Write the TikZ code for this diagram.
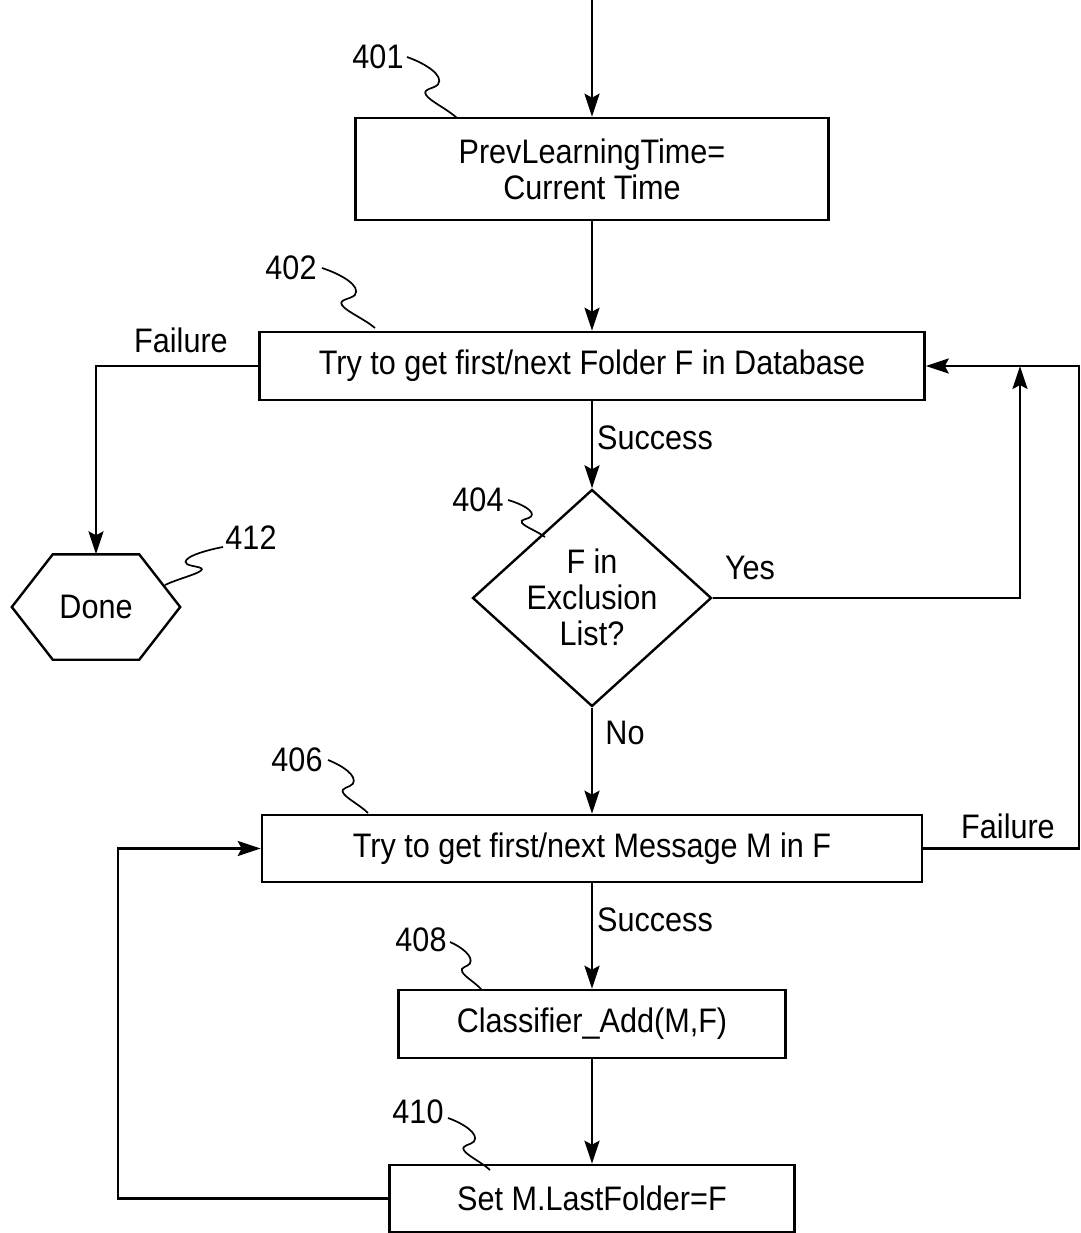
\documentclass[tikz,border=0pt]{standalone}
\usepackage{fontspec}
\setmainfont{Liberation Sans}[FakeStretch=0.9]
\usetikzlibrary{arrows.meta,calc,shapes.geometric}
\newcommand\squig[4]{\draw[lead, shift={(#1,#2)}, xscale=#3, yscale=#4] (0,0) .. controls (0.35,0.1) and (0.75,0.3) .. (0.62,0.45) .. controls (0.55,0.52) and (0.3,0.52) .. (0.38,0.62) .. controls (0.45,0.72) and (0.8,0.85) .. (1,1);}
\begin{document}
\begin{tikzpicture}[x=1pt,y=-1pt,
 every node/.style={font=\fontsize{34}{36}\selectfont, inner sep=0pt},
 box/.style={draw, line width=2.6pt, rectangle, align=center},
 conn/.style={line width=2.4pt, -{Stealth[length=23pt,width=15pt,inset=4pt]}},
 lead/.style={line width=1.7pt}]
\useasboundingbox (0,0) rectangle (1080,1233);
% boxes
\node[box, minimum width=473pt, minimum height=102pt] (b401) at (592,169) {PrevLearningTime=\\Current Time};
\node[box, minimum width=665pt, minimum height=68pt] (b402) at (592,366) {Try to get first/next Folder F in Database};
\node[draw, diamond, line width=2.4pt, minimum width=239pt, minimum height=217pt] (d404) at (592,598) {};
\node[align=center] (d404t) at (592,597) {F in\\Exclusion\\List?};
\node[box, minimum width=660pt, minimum height=67pt] (b406) at (592,848.5) {Try to get first/next Message M in F};
\node[box, minimum width=387pt, minimum height=68pt] (b408) at (592,1024) {Classifier\_Add(M,F)};
\node[box, minimum width=405pt, minimum height=67pt] (b410) at (592,1198.5) {Set M.LastFolder=F};
\node[minimum width=168pt, minimum height=105pt] (done) at (96,607) {Done};
\draw[line width=2.4pt] (done.west) -- ($(done.north west)+(41,0)$) -- ($(done.north east)+(-41,0)$) -- (done.east) -- ($(done.south east)+(-41,0)$) -- ($(done.south west)+(41,0)$) -- cycle;
% connectors
\coordinate (top) at (592,0);
\coordinate (yj) at (1020,366);
\coordinate (fr1) at (1079,848.5);
\coordinate (fr2) at (1079,366);
\coordinate (lp) at (118,1198.5);
\draw[conn] (top) -- (b401.north);
\draw[conn] (b401.south) -- (b402.north);
\draw[conn] (b402.west) -| (done.north);
\draw[conn] (b402.south) -- (d404.north);
\draw[conn] (d404.east) -| (yj);
\draw[conn] (b406.east) -- (fr1) -- (fr2) -- (b402.east);
\draw[conn] (d404.south) -- (b406.north);
\draw[conn] (b406.south) -- (b408.north);
\draw[conn] (b408.south) -- (b410.north);
\draw[conn] (b410.west) -- (lp) |- (b406.west);
% connector labels
\node (fail1) at (181,340) {Failure};
\node (succ1) at (655,438) {Success};
\node (yes) at (750,568) {Yes};
\node (no) at (625,733) {No};
\node (fail2) at (1008,826) {Failure};
\node (succ2) at (655,920) {Success};
% reference numerals
\node (l401) at (378,57) {401};
\node (l402) at (291,268) {402};
\node (l404) at (478,500) {404};
\node (l406) at (297,760) {406};
\node (l408) at (421,940) {408};
\node (l410) at (418,1112) {410};
\node (l412) at (251,538) {412};
\squig{407}{57}{50}{61}
\squig{322}{268}{53}{60}
\squig{508}{500}{37}{37}
\squig{328}{760}{40}{53}
\squig{450}{942}{32}{48}
\squig{448}{1118}{42}{52}
\squig{223}{547}{-58}{38}
\end{tikzpicture}
\end{document}
